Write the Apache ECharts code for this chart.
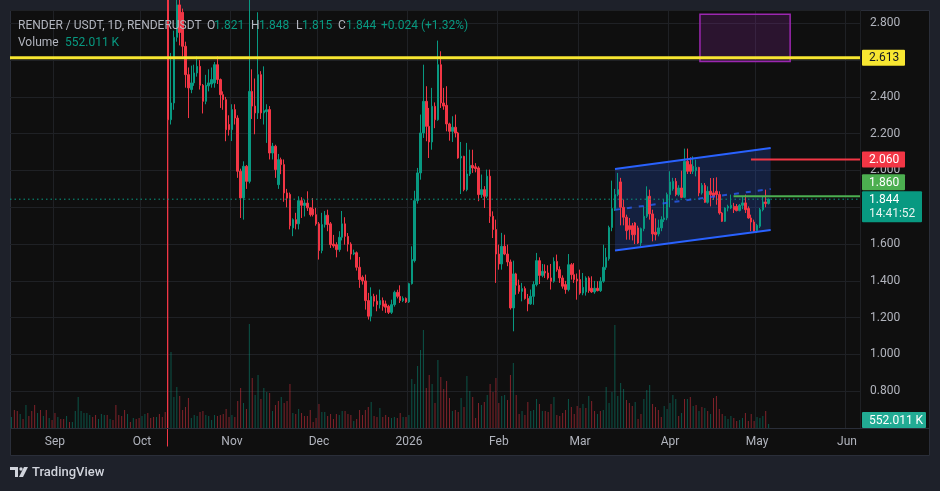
<!DOCTYPE html>
<html><head><meta charset="utf-8">
<script src="https://cdn.jsdelivr.net/npm/echarts@6/dist/echarts.min.js"></script>
<style>html,body{margin:0;padding:0;background:#1e212a;}#c{width:940px;height:491px;}</style>
</head><body><div id="c"></div>
<script>
// ---------------- DATA ----------------
const symbolTitle = 'RENDER / USDT, 1D, RENDERUSDT';
const firstDay = '2025-08-17';
const lastDay = '2026-06-05';
const firstCandleDay = '2025-10-10';
// daily candles [open, high, low, close] from firstCandleDay
const ohlc = [
[3.000,3.050,0.500,2.276],[2.276,2.639,2.250,2.367],[2.367,2.760,2.330,2.724],[2.724,2.950,2.700,2.900],[2.900,2.950,2.680,2.750],
[2.860,2.880,2.620,2.675],[2.675,2.700,2.450,2.521],[2.521,2.560,2.285,2.449],[2.440,2.570,2.420,2.476],[2.476,2.575,2.460,2.530],
[2.530,2.620,2.510,2.566],[2.566,2.600,2.440,2.463],[2.463,2.470,2.310,2.376],[2.376,2.520,2.360,2.463],[2.460,2.550,2.430,2.476],
[2.470,2.560,2.450,2.494],[2.476,2.590,2.450,2.575],[2.575,2.620,2.470,2.494],[2.494,2.500,2.340,2.412],[2.412,2.430,2.330,2.385],
[2.385,2.400,2.159,2.222],[2.250,2.300,2.190,2.222],[2.222,2.360,2.160,2.331],[2.331,2.360,2.250,2.285],[2.285,2.300,1.960,1.996],
[1.996,2.010,1.742,1.851],[1.851,2.050,1.733,2.023],[2.023,2.030,1.900,1.941],[1.941,2.950,1.930,2.430],[2.430,2.550,2.280,2.350],
[2.350,2.500,2.197,2.313],[2.313,2.860,2.280,2.521],[2.521,2.540,2.280,2.313],[2.313,2.566,2.250,2.325],[2.320,2.360,2.150,2.330],
[2.331,2.350,2.060,2.095],[2.095,2.150,2.060,2.132],[2.132,2.140,1.960,2.005],[1.923,2.090,1.900,2.059],[2.059,2.070,1.980,2.032],
[2.032,2.060,1.830,1.878],[1.878,1.900,1.800,1.850],[1.870,1.880,1.680,1.700],[1.688,1.740,1.643,1.733],[1.733,1.770,1.680,1.710],
[1.710,1.860,1.680,1.836],[1.836,1.855,1.742,1.811],[1.810,1.842,1.750,1.823],[1.823,1.887,1.780,1.797],[1.797,1.800,1.750,1.760],
[1.790,1.850,1.750,1.760],[1.760,1.797,1.700,1.710],[1.710,1.720,1.516,1.565],[1.565,1.770,1.550,1.706],[1.706,1.780,1.690,1.757],
[1.757,1.787,1.670,1.706],[1.710,1.720,1.579,1.597],[1.600,1.650,1.580,1.590],[1.597,1.610,1.528,1.570],[1.570,1.670,1.558,1.637],
[1.637,1.780,1.620,1.710],[1.710,1.746,1.597,1.642],[1.642,1.660,1.560,1.600],[1.600,1.610,1.516,1.546],[1.547,1.570,1.540,1.553],
[1.553,1.560,1.456,1.474],[1.474,1.530,1.362,1.407],[1.420,1.430,1.380,1.400],[1.400,1.434,1.244,1.293],[1.293,1.335,1.190,1.208],
[1.208,1.365,1.180,1.316],[1.316,1.330,1.260,1.290],[1.290,1.325,1.235,1.271],[1.270,1.353,1.250,1.293],[1.293,1.310,1.238,1.262],
[1.275,1.293,1.226,1.257],[1.262,1.270,1.220,1.229],[1.229,1.298,1.220,1.271],[1.271,1.347,1.260,1.338],[1.338,1.352,1.305,1.316],
[1.316,1.376,1.280,1.293],[1.293,1.316,1.285,1.305],[1.305,1.310,1.280,1.286],[1.286,1.390,1.280,1.385],[1.385,1.588,1.380,1.516],
[1.510,1.890,1.500,1.836],[1.836,2.014,1.820,1.987],[1.987,2.304,1.950,2.204],[2.204,2.575,2.177,2.376],[2.376,2.458,2.159,2.240],
[2.240,2.340,2.068,2.155],[2.155,2.449,2.113,2.349],[2.349,2.370,2.230,2.276],[2.276,2.706,2.270,2.575],[2.575,2.648,2.340,2.367],
[2.367,2.449,2.330,2.350],[2.354,2.458,2.213,2.253],[2.253,2.260,2.162,2.213],[2.213,2.295,2.155,2.235],[2.235,2.304,2.180,2.204],
[2.204,2.210,2.064,2.068],[2.068,2.155,1.872,2.077],[2.077,2.080,1.887,1.896],[1.896,2.150,1.887,1.981],[1.981,2.113,1.970,2.028],
[2.028,2.113,1.987,2.014],[2.020,2.040,1.990,2.010],[2.014,2.023,1.833,1.869],[1.869,1.978,1.851,1.896],[1.896,1.915,1.796,1.860],
[1.860,2.005,1.850,1.969],[1.969,2.005,1.715,1.751],[1.751,1.778,1.633,1.679],[1.679,1.733,1.389,1.546],[1.546,1.597,1.461,1.492],
[1.492,1.661,1.461,1.588],[1.588,1.651,1.540,1.546],[1.546,1.597,1.480,1.503],[1.503,1.516,1.244,1.253],[1.253,1.510,1.126,1.438],
[1.438,1.444,1.325,1.376],[1.376,1.407,1.330,1.343],[1.343,1.389,1.289,1.358],[1.358,1.370,1.298,1.304],[1.304,1.329,1.235,1.275],
[1.275,1.353,1.270,1.316],[1.316,1.398,1.270,1.380],[1.380,1.552,1.370,1.510],[1.510,1.528,1.383,1.430],[1.430,1.492,1.420,1.452],
[1.452,1.490,1.416,1.443],[1.443,1.485,1.407,1.416],[1.416,1.492,1.353,1.398],[1.398,1.528,1.390,1.506],[1.506,1.543,1.450,1.461],
[1.461,1.479,1.389,1.416],[1.416,1.430,1.358,1.371],[1.380,1.400,1.330,1.353],[1.353,1.546,1.343,1.488],[1.488,1.497,1.407,1.434],
[1.434,1.497,1.389,1.407],[1.410,1.440,1.298,1.400],[1.407,1.461,1.325,1.334],[1.334,1.443,1.322,1.365],[1.340,1.425,1.320,1.416],
[1.416,1.425,1.335,1.347],[1.360,1.425,1.335,1.340],[1.340,1.400,1.330,1.360],[1.360,1.398,1.343,1.347],[1.347,1.420,1.340,1.398],
[1.398,1.597,1.390,1.474],[1.474,1.579,1.460,1.528],[1.520,1.700,1.510,1.690],[1.690,1.945,1.670,1.793],[1.793,1.900,1.780,1.869],
[1.869,1.987,1.860,1.896],[1.938,1.960,1.702,1.800],[1.800,1.842,1.702,1.746],[1.746,1.760,1.624,1.673],[1.700,1.742,1.624,1.679],
[1.700,1.715,1.620,1.651],[1.715,1.720,1.600,1.651],[1.688,1.700,1.601,1.606],[1.606,1.690,1.590,1.684],[1.684,1.805,1.670,1.751],
[1.751,1.914,1.742,1.860],[1.860,1.896,1.733,1.764],[1.764,1.787,1.615,1.655],[1.665,1.740,1.620,1.651],[1.655,1.733,1.642,1.688],
[1.688,1.751,1.670,1.733],[1.733,1.842,1.720,1.742],[1.742,1.880,1.730,1.869],[1.869,1.996,1.800,1.938],[1.900,1.960,1.890,1.941],
[1.941,1.959,1.860,1.869],[1.869,1.920,1.860,1.905],[1.905,1.999,1.850,1.854],[1.854,2.119,1.850,2.050],[2.050,2.119,1.981,1.996],
[2.032,2.072,1.981,1.996],[1.996,2.077,1.981,2.023],[2.000,2.059,1.968,2.017],[2.017,2.020,1.860,1.878],[1.878,1.932,1.869,1.920],
[1.920,1.932,1.824,1.827],[1.827,1.914,1.820,1.887],[1.887,1.959,1.805,1.869],[1.878,1.959,1.840,1.860],[1.887,1.963,1.814,1.869],
[1.869,1.887,1.760,1.769],[1.769,1.775,1.720,1.724],[1.724,1.800,1.720,1.796],[1.796,1.814,1.778,1.805],[1.796,1.869,1.790,1.811],
[1.805,1.824,1.769,1.787],[1.805,1.818,1.778,1.782],[1.782,1.818,1.778,1.811],[1.811,1.860,1.790,1.824],[1.824,1.869,1.769,1.787],
[1.793,1.805,1.738,1.742],[1.742,1.760,1.670,1.720],[1.720,1.733,1.660,1.670],[1.673,1.710,1.660,1.702],[1.697,1.796,1.688,1.787],
[1.787,1.860,1.778,1.829],[1.829,1.896,1.800,1.820],[1.821,1.848,1.815,1.844]
];
// daily volume (millions) from firstDay
const volume = [
1.52,2.48,2.35,1.93,1.24,3.17,1.66,2.35,3.17,2.07, 2.48,1.66,2.48,1.38,1.10,2.07,1.52,1.24,1.24,1.66,
0.83,0.83,2.35,4.28,2.35,2.07,2.07,1.79,1.52,1.79, 1.24,1.93,1.79,1.79,1.24,1.10,3.17,1.79,1.66,2.48,
1.93,0.83,1.38,1.24,1.38,1.66,1.93,2.07,1.38,1.52, 1.52,1.93,1.52,2.21,60,
10.49,4.28,5.66,4.42,2.48,2.90,4.14,1.38,1.79,1.66, 2.21,2.35,1.79,1.66,1.10,1.79,1.66,1.79,1.93,2.62,
1.52,1.79,1.52,3.73,5.52,3.45,2.62,14.35,6.90,4.55, 7.31,4.00,5.52,4.97,4.83,2.35,3.17,3.73,4.28,3.45,
3.73,6.07,2.07,1.93,2.62,2.07,1.66,1.66,2.48,0.83, 1.38,3.31,2.21,2.21,1.66,1.93,1.24,1.93,1.79,2.35,
2.35,1.93,1.79,0.97,1.24,2.48,1.79,2.48,2.90,3.59, 1.66,1.52,2.76,1.52,1.79,1.52,1.38,1.52,1.38,2.07,
1.52,1.52,1.79,6.76,6.07,8.56,10.76,13.52,5.52,7.31, 6.07,3.45,9.38,7.04,5.38,6.49,4.14,2.35,2.48,2.21,
4.14,2.90,7.18,5.11,4.28,1.38,3.45,3.17,3.59,4.55, 6.07,4.97,6.90,3.45,4.42,4.55,3.86,7.31,8.97,4.55,
1.93,2.35,1.79,3.59,2.35,2.48,4.00,3.31,2.35,2.35, 2.21,3.31,4.28,1.79,1.66,2.07,2.48,4.00,2.90,1.93,
3.04,2.76,3.31,2.76,4.42,3.73,2.35,1.93,2.35,2.48, 5.66,3.45,4.97,14.21,4.42,6.21,5.38,3.86,3.45,3.04,
3.59,1.24,1.93,4.00,5.24,5.93,3.31,2.90,2.48,1.52, 3.04,2.62,3.45,4.55,4.00,1.66,2.07,4.00,4.00,4.28,
3.04,3.17,2.35,2.90,2.76,2.35,1.93,4.14,4.42,2.62, 1.93,1.66,1.24,1.66,1.38,0.97,1.10,1.38,2.07,0.97,
1.93,0.97,1.52,1.38,1.66,2.35,0.552011
];
// volume bar direction (u = up day, d = down day)
const volumeDir = (
'u d d u d u d d d u  d u d u d d u d d u  d u u u u u u u d d  u u u d u d d d d d  u d u d d u u d d d  u d d d d ' +
'u u u d d d d u u u  d d u u u u d d d d  d u d d d u d u d u  u d u u d u d d u d  d d u d u d d d d d ' +
'd d u u d d d d u u  d d d u d d d d d u  d d u d d d u u d d  u d u u u u u u d d  u d u d d d d u d d ' +
'u d u u d d d u d u  d d d d u u d d u d  d u d d u u u d u d  d d u d d d d u d d  d d u d u d d u d u ' +
'u u u u u u u d d d  u d d u u u d d d d  u u u u u d u d u d  u d u d u d u d d d  d u u u d d u u d d ' +
'd d u u u d u').replace(/\s/g, '');
const monthTicks = [['2025-09-01','Sep'],['2025-10-01','Oct'],['2025-11-01','Nov'],['2025-12-01','Dec'],
  ['2026-01-01','2026'],['2026-02-01','Feb'],['2026-03-01','Mar'],['2026-04-01','Apr'],['2026-05-01','May'],['2026-06-01','Jun']];
const resistanceLevel = 2.613;
const redLevel = { from: '2026-04-28T22:00:00Z', price: 2.060 };
const greenLevel = { from: '2026-04-22T22:00:00Z', price: 1.860 };
const channel = { from: '2026-03-13T01:00:00Z', to: '2026-05-05T17:00:00Z', upper: [2.008, 2.122], lower: [1.565, 1.677] };
const box = { from: '2026-04-11T08:00:00Z', to: '2026-05-12T10:00:00Z', top: 2.849, bottom: 2.593 };
const countdown = '14:41:52';

// ---------------- BUILD ----------------
const DAY = 86400000;
const t0 = Date.parse(firstDay + 'T00:00:00Z');
const dayPos = s => (Date.parse(s.length === 10 ? s + 'T00:00:00Z' : s) - t0) / DAY;
const nDays = dayPos(lastDay) + 1;
const categories = [];
for (let i = 0; i < nDays; i++) categories.push(new Date(t0 + i * DAY).toISOString().slice(0, 10));
const tickMap = new Map(monthTicks);
const off = dayPos(firstCandleDay);
const candleData = categories.map((d, i) => {
  const k = i - off;
  if (k >= 0 && k < ohlc.length) { const [o, h, l, c] = ohlc[k]; return [o, c, l, h]; }
  return ['-', '-', '-', '-'];
});
const UP = '#089981', DN = '#f23645';
const UPV = 'rgba(8,153,129,0.5)', DNV = 'rgba(242,54,69,0.5)';
const volData = categories.map((d, i) => i < volume.length
  ? { value: volume[i], itemStyle: { color: volumeDir[i] === 'u' ? UPV : DNV } } : '-');
const last = ohlc[ohlc.length - 1];
const prevClose = ohlc[ohlc.length - 2][3];
const chg = last[3] - prevClose;
const lastVol = volume[volume.length - 1];
const volText = (lastVol * 1000).toFixed(3) + ' K';
const FONT = 'Roboto, "Noto Sans", sans-serif';

function makeX(api) {
  const band = api.size([1, 0])[0];
  return d => { const f = Math.floor(d); return api.coord([f, 0])[0] + (d - f) * band; };
}
function tag(x, y, w, h, fill, text, color) {
  return { type: 'group', children: [
    { type: 'rect', shape: { x: x, y: y, width: w, height: h, r: 1 }, style: { fill: fill } },
    { type: 'text', style: { text: text, x: x + 7, y: y + h / 2 + 0.5, fill: color, font: '12px ' + FONT, verticalAlign: 'middle', align: 'left', lineHeight: 14 } }
  ] };
}

const option = {
  animation: false,
  backgroundColor: 'transparent',
  grid: { left: 10, top: 10, width: 850, height: 418, outerBoundsMode: 'none' },
  xAxis: {
    type: 'category', data: categories, boundaryGap: true,
    axisLine: { show: false }, axisTick: { show: false },
    axisLabel: { interval: (i, v) => tickMap.has(v), formatter: v => tickMap.get(v) || '', color: '#b2b5be', fontSize: 12, fontFamily: FONT, margin: 8 },
    splitLine: { show: true, interval: (i, v) => tickMap.has(v), lineStyle: { color: '#1f2125', width: 1 } }
  },
  yAxis: [
    { type: 'value', position: 'right', min: 0.6005, max: 2.8723, splitNumber: 11,
      axisLine: { show: false }, axisTick: { show: false },
      axisLabel: { color: '#b2b5be', fontSize: 12, fontFamily: FONT, margin: 10, showMinLabel: false, showMaxLabel: false,
        formatter: v => (v < 0.7 || v > 2.81) ? '' : v.toFixed(3) },
      splitLine: { lineStyle: { color: '#1f2125', width: 1 } } },
    { type: 'value', min: 0, max: 57.68, show: false, splitLine: { show: false } }
  ],
  graphic: [
    { type: 'rect', z: -10, silent: true, shape: { x: 10.5, y: 10.5, width: 919, height: 445 }, style: { fill: '#0f0f0f', stroke: '#2a2e39', lineWidth: 1 } },
    { type: 'line', z: 10, silent: true, shape: { x1: 10, y1: 428.5, x2: 929, y2: 428.5 }, style: { stroke: '#2a2e39', lineWidth: 1 } },
    { type: 'text', z: 20, style: { text: symbolTitle, x: 18, y: 26, fill: '#b2b5be', font: '12px ' + FONT, verticalAlign: 'middle' } },
    { type: 'text', z: 20, style: { text: 'O', x: 207, y: 26, fill: '#b2b5be', font: '12px ' + FONT, verticalAlign: 'middle' } },
    { type: 'text', z: 20, style: { text: last[0].toFixed(3), x: 214, y: 26, fill: UP, font: '12px ' + FONT, verticalAlign: 'middle' } },
    { type: 'text', z: 20, style: { text: 'H', x: 251, y: 26, fill: '#b2b5be', font: '12px ' + FONT, verticalAlign: 'middle' } },
    { type: 'text', z: 20, style: { text: last[1].toFixed(3), x: 259, y: 26, fill: UP, font: '12px ' + FONT, verticalAlign: 'middle' } },
    { type: 'text', z: 20, style: { text: 'L', x: 296, y: 26, fill: '#b2b5be', font: '12px ' + FONT, verticalAlign: 'middle' } },
    { type: 'text', z: 20, style: { text: last[2].toFixed(3), x: 302, y: 26, fill: UP, font: '12px ' + FONT, verticalAlign: 'middle' } },
    { type: 'text', z: 20, style: { text: 'C', x: 338, y: 26, fill: '#b2b5be', font: '12px ' + FONT, verticalAlign: 'middle' } },
    { type: 'text', z: 20, style: { text: last[3].toFixed(3), x: 346, y: 26, fill: UP, font: '12px ' + FONT, verticalAlign: 'middle' } },
    { type: 'text', z: 20, style: { text: (chg >= 0 ? '+' : '') + chg.toFixed(3) + ' (' + (chg >= 0 ? '+' : '') + (chg / prevClose * 100).toFixed(2) + '%)', x: 381, y: 26, fill: UP, font: '12px ' + FONT, verticalAlign: 'middle' } },
    { type: 'text', z: 20, style: { text: 'Volume', x: 18, y: 43, fill: '#b2b5be', font: '12px ' + FONT, verticalAlign: 'middle' } },
    { type: 'text', z: 20, style: { text: volText, x: 65, y: 43, fill: UP, font: '12px ' + FONT, verticalAlign: 'middle' } },
    // TradingView logo
    { type: 'polygon', z: 20, shape: { points: [[10, 467], [18, 467], [18, 477], [15, 477], [15, 470], [10, 470]] }, style: { fill: '#d1d4dc' } },
    { type: 'circle', z: 20, shape: { cx: 21, cy: 469, r: 1.7 }, style: { fill: '#d1d4dc' } },
    { type: 'polygon', z: 20, shape: { points: [[24, 467], [28, 467], [23, 477], [19, 477]] }, style: { fill: '#d1d4dc' } },
    { type: 'text', z: 20, style: { text: 'TradingView', x: 32, y: 472.5, fill: '#d1d4dc', font: '500 13px ' + FONT, verticalAlign: 'middle' } }
  ],
  series: [
    { type: 'bar', name: 'Volume', xAxisIndex: 0, yAxisIndex: 1, data: volData, barWidth: 1, z: 1, clip: true, silent: true },
    { type: 'custom', name: 'fills', z: 1.5, silent: true, data: [[0, 1]],
      renderItem: (params, api) => {
        const X = makeX(api), Y = p => api.coord([0, p])[1];
        const cx0 = X(dayPos(channel.from)), cx1 = X(dayPos(channel.to));
        const bx0 = X(dayPos(box.from)), bx1 = X(dayPos(box.to));
        return { type: 'group', children: [
          { type: 'rect', shape: { x: bx0, y: Y(box.top), width: bx1 - bx0, height: Y(box.bottom) - Y(box.top) },
            style: { fill: 'rgba(156,39,176,0.2)', stroke: '#9c27b0', lineWidth: 1.5 } },
          { type: 'polygon', shape: { points: [[cx0, Y(channel.upper[0])], [cx1, Y(channel.upper[1])], [cx1, Y(channel.lower[1])], [cx0, Y(channel.lower[0])]] },
            style: { fill: 'rgba(41,98,255,0.2)' } }
        ] };
      } },
    { type: 'candlestick', name: 'RENDERUSDT', data: candleData, barWidth: 2, z: 3, clip: true, silent: true,
      itemStyle: { color: UP, color0: DN, borderColor: UP, borderColor0: DN, borderWidth: 1 } },
    { type: 'custom', name: 'drawings', z: 5, silent: true, data: [[0, 1]],
      renderItem: (params, api) => {
        const cs = params.coordSys;
        const X = makeX(api), Y = p => api.coord([0, p])[1];
        const L = cs.x, R = cs.x + cs.width;
        const cx0 = X(dayPos(channel.from)), cx1 = X(dayPos(channel.to));
        const mid0 = (channel.upper[0] + channel.lower[0]) / 2, mid1 = (channel.upper[1] + channel.lower[1]) / 2;
        const ch = [];
        ch.push({ type: 'line', shape: { x1: L, y1: Y(last[3]), x2: R, y2: Y(last[3]) }, style: { stroke: UP, lineWidth: 1, lineDash: [1.5, 3] } });
        ch.push({ type: 'line', shape: { x1: cx0, y1: Y(mid0), x2: cx1, y2: Y(mid1) }, style: { stroke: 'rgba(41,98,255,0.75)', lineWidth: 2, lineDash: [5, 7] } });
        ch.push({ type: 'line', shape: { x1: cx0, y1: Y(channel.upper[0]), x2: cx1, y2: Y(channel.upper[1]) }, style: { stroke: '#2962ff', lineWidth: 2 } });
        ch.push({ type: 'line', shape: { x1: cx0, y1: Y(channel.lower[0]), x2: cx1, y2: Y(channel.lower[1]) }, style: { stroke: '#2962ff', lineWidth: 2 } });
        ch.push({ type: 'line', shape: { x1: L, y1: Y(resistanceLevel), x2: R, y2: Y(resistanceLevel) }, style: { stroke: '#f7e631', lineWidth: 3 } });
        ch.push({ type: 'line', shape: { x1: X(dayPos(redLevel.from)), y1: Y(redLevel.price), x2: R, y2: Y(redLevel.price) }, style: { stroke: DN, lineWidth: 2 } });
        ch.push({ type: 'line', shape: { x1: X(dayPos(greenLevel.from)), y1: Y(greenLevel.price), x2: R, y2: Y(greenLevel.price) }, style: { stroke: '#4caf50', lineWidth: 2 } });
        const tx = R + 2;
        ch.push(tag(tx, Y(resistanceLevel) - 8, 43, 16, '#f7e631', resistanceLevel.toFixed(3), '#131722'));
        ch.push(tag(tx, Y(redLevel.price) - 8, 43, 16, DN, redLevel.price.toFixed(3), '#ffffff'));
        const lastTop = Y(last[3]) - 8;
        ch.push(tag(tx, lastTop - 17, 43, 16, '#4caf50', greenLevel.price.toFixed(3), '#ffffff'));
        ch.push({ type: 'group', children: [
          { type: 'rect', shape: { x: tx, y: lastTop, width: 60, height: 31, r: 1 }, style: { fill: UP } },
          { type: 'text', style: { text: last[3].toFixed(3), x: tx + 7, y: lastTop + 8.5, fill: '#ffffff', font: '12px ' + FONT, verticalAlign: 'middle' } },
          { type: 'text', style: { text: countdown, x: tx + 7, y: lastTop + 22.5, fill: '#e6f3f0', font: '12px ' + FONT, verticalAlign: 'middle' } }
        ] });
        return { type: 'group', children: ch };
      } },
    { type: 'custom', name: 'volTag', yAxisIndex: 1, z: 6, silent: true, data: [[0, 0]],
      renderItem: (params, api) => {
        const cs = params.coordSys;
        const bottom = cs.y + cs.height;
        const vy = api.coord([0, lastVol])[1];
        const top = Math.min(vy - 8, bottom - 16);
        return tag(cs.x + cs.width + 2, top, 64, 16, '#22ab94', volText, '#ffffff');
      } }
  ]
};
const chart = echarts.init(document.getElementById('c'), null, { renderer: 'canvas' });
chart.setOption(option);
</script></body></html>
